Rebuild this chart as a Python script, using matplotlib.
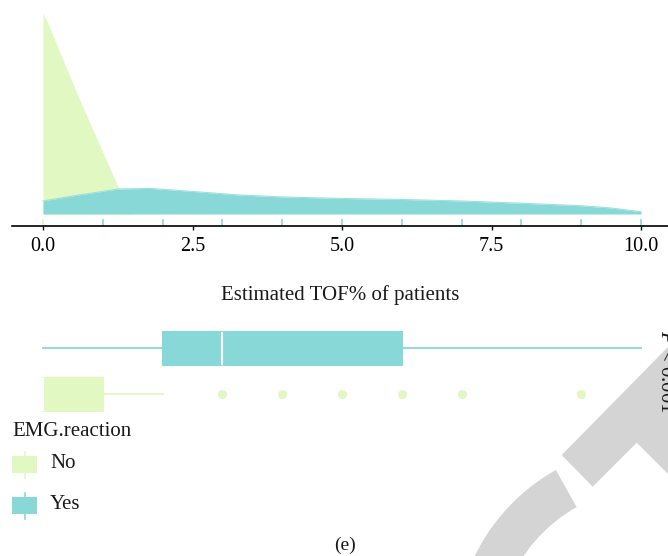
import matplotlib
matplotlib.use("Agg")
import matplotlib.pyplot as plt
from matplotlib.patches import Rectangle, Wedge, Polygon

plt.rcParams["font.family"] = ["Liberation Serif", "DejaVu Serif"]
plt.rcParams["mathtext.fontset"] = "custom"
plt.rcParams["mathtext.rm"] = "Liberation Serif"
plt.rcParams["mathtext.it"] = "Liberation Serif:italic"

# --- data ---
groups = ["No", "Yes"]

no_x = [0.0, 0.1, 0.55, 1.27, 1.5]
no_density = [0.80, 0.75, 0.49, 0.10, 0.0]

yes_x = [0.0, 0.6, 1.27, 1.8, 2.5, 3.27, 4.0, 5.0, 6.0, 7.0, 8.0, 9.0, 9.5, 10.0]
yes_density = [0.052, 0.076, 0.100, 0.102, 0.090, 0.076, 0.068, 0.062,
               0.058, 0.052, 0.043, 0.033, 0.024, 0.009]

rug_no = [0]
rug_yes = [1, 2, 3, 4, 5, 6, 7, 8, 9, 10]

# box stats per group (No, Yes)
q1 = [0, 2]
med = [0, 3]
q3 = [1, 6]
whislo = [0, 0]
whishi = [2, 10]
fliers = [[3, 4, 5, 6, 7, 9], []]

xticks = [0, 2.5, 5, 7.5, 10]
xticklabels = ["0.0", "2.5", "5.0", "7.5", "10.0"]

GREEN = "#e1f8c3"
CYAN = "#88d8d7"
GRAY = "#d4d4d4"
W, H = 668, 556

fig = plt.figure(figsize=(W / 100, H / 100), dpi=100, facecolor="white")

# overlay in pixel coords: watermark + legend
ov = fig.add_axes([0, 0, 1, 1], zorder=0)
ov.set_xlim(0, W)
ov.set_ylim(H, 0)
ov.axis("off")
ov.add_patch(Wedge((652, 642), 197, 160, 240.8, width=42.5, facecolor=GRAY, edgecolor="none"))
ov.add_patch(Polygon([(561.7, 455), (592.7, 486.7), (636.7, 442.7), (668, 474), (668, 347)],
                     closed=True, facecolor=GRAY, edgecolor="none"))

# legend
ov.text(12, 432, "EMG.reaction", fontsize=15, ha="left", va="center", color="#1a1a1a")
for i, (g, c) in enumerate(zip(groups, [GREEN, CYAN])):
    yc = 464.5 + i * 41
    ov.plot([24.5, 24.5], [yc - 13, yc + 13], color=c, lw=1.2)
    ov.add_patch(Rectangle((12, yc - 8.5), 25, 17, facecolor=c, edgecolor="none"))
    ov.text(50, yc - 1, g, fontsize=15, ha="left", va="center", color="#1a1a1a")

# --- density panel ---
xl = (-0.518, 10.45)
ax = fig.add_axes([12 / W, (H - 225.7) / H, 656 / W, 225.7 / H], zorder=1)
ax.patch.set_visible(False)
ax.fill_between(no_x, 0, no_density, color=GREEN, lw=0)
ax.fill_between(yes_x, 0, yes_density, color=CYAN, lw=0)
ax.plot(yes_x, yes_density, color="#9ee0dd", lw=0.8)
ax.vlines(rug_no, 0, 0.031, color=GREEN, lw=1.2, transform=ax.get_xaxis_transform())
ax.vlines(rug_yes, 0, 0.031, color=CYAN, lw=1.2, transform=ax.get_xaxis_transform())
ax.set_xlim(*xl)
ax.set_ylim(-0.0466, 0.853)
for s in ["top", "right", "left"]:
    ax.spines[s].set_visible(False)
ax.spines["bottom"].set_linewidth(1.2)
ax.set_yticks([])
ax.set_xticks(xticks)
ax.set_xticklabels(xticklabels)
ax.tick_params(axis="x", direction="out", length=3, width=1, pad=5, labelsize=14.5)

fig.text(340 / W, (H - 295) / H, "Estimated TOF% of patients", ha="center", va="center",
         fontsize=15, color="#1a1a1a")

# --- box panel ---
bx = fig.add_axes([12 / W, (H - 421.9) / H, 656 / W, 101.2 / H], zorder=2)
bx.patch.set_visible(False)
stats = []
for i, g in enumerate(groups):
    stats.append(dict(label=g, q1=q1[i], med=med[i], q3=q3[i],
                      whislo=whislo[i], whishi=whishi[i], fliers=fliers[i]))
bp = bx.bxp(stats, positions=[1, 2], widths=0.71, vert=False, patch_artist=True,
            showcaps=False, manage_ticks=False)
for i, c in enumerate([GREEN, CYAN]):
    bp["boxes"][i].set(facecolor=c, edgecolor=c, linewidth=1.5)
    bp["medians"][i].set(color="white", linewidth=1.5, zorder=3)
    for w in bp["whiskers"][2 * i:2 * i + 2]:
        w.set(color=c, linewidth=1.3)
    bp["fliers"][i].set(marker="o", markerfacecolor=c, markeredgecolor=c, markersize=5.5)
bx.set_xlim(*xl)
bx.set_ylim(0.4, 2.6)
bx.axis("off")

fig.text(656 / W, (H - 330) / H, r"$P$ < 0.001", rotation=-90, ha="left", va="top",
         fontsize=15, color="#1a1a1a")
fig.text(344.6 / W, (H - 545) / H, "(e)", ha="center", va="center", fontsize=14, color="#1a1a1a")

fig.savefig("out.png", dpi=100, facecolor="white")
